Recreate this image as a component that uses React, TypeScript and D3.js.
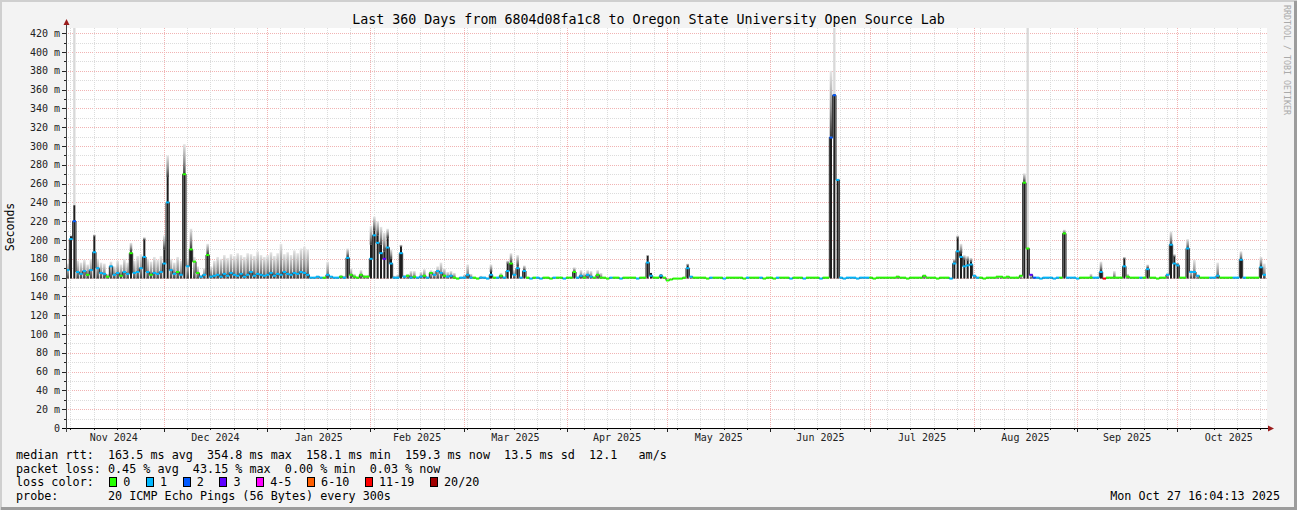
import * as d3 from "d3";
import { useEffect, useRef } from "react";

const WIDTH = 1297;
const HEIGHT = 510;

const TITLE = "Last 360 Days from 6804d08fa1c8 to Oregon State University Open Source Lab";
const START = new Date(Date.UTC(2024, 10, 1, 16, 4, 13));
const END = new Date(Date.UTC(2025, 9, 27, 16, 4, 13));

// median rtt per day (ms), day 0 = Nov 1 2024
const MEDIAN = [
  168, 201, 220, 166, 164, 167, 163, 168, 187, 170, 165, 164, 161, 172, 163, 165, 162, 166, 164, 186, 165, 166, 170, 182, 166, 163, 165, 164, 166, 175,
  240, 168, 164, 166, 163, 270, 172, 190, 177, 165, 161, 163, 184, 161, 162, 163, 161, 164, 162, 165, 163, 162, 164, 161, 163, 166, 162, 164, 163, 162,
  163, 165, 162, 164, 163, 166, 164, 163, 165, 164, 166, 165, 163, 160, 160, 161, 160, 160, 163, 161, 160, 160, 161, 160, 181, 163, 161, 160, 163, 161,
  161, 180, 205, 197, 186, 180, 192, 175, 160, 160, 186, 161, 162, 160, 161, 160, 161, 162, 160, 165, 163, 167, 165, 162, 161, 162, 160, 159, 160, 160,
  163, 160, 160, 159, 160, 160, 159, 163, 160, 160, 162, 160, 167, 175, 163, 170, 160, 167, 160, 159, 160, 160, 159, 160, 160, 159, 160, 160, 160, 159,
  160, 160, 166, 160, 162, 160, 163, 161, 160, 163, 160, 160, 159, 160, 160, 160, 159, 160, 160, 160, 160, 159, 160, 160, 176, 162, 160, 160, 162, 160,
  157, 158, 159, 159, 159, 160, 170, 161, 160, 160, 160, 160, 159, 160, 160, 160, 160, 159, 160, 160, 160, 160, 160, 159, 160, 160, 160, 160, 160, 159,
  160, 160, 159, 160, 160, 160, 160, 159, 160, 160, 160, 159, 160, 160, 160, 160, 159, 160, 160, 309, 354, 264, 160, 159, 160, 160, 160, 159, 160, 160,
  160, 160, 159, 160, 160, 160, 160, 160, 160, 161, 160, 160, 159, 160, 160, 160, 160, 162, 160, 160, 160, 159, 160, 160, 160, 159, 175, 188, 182, 172,
  173, 174, 162, 160, 160, 159, 160, 160, 160, 161, 161, 160, 161, 160, 160, 160, 162, 261, 191, 163, 160, 160, 159, 160, 160, 160, 159, 160, 160, 207,
  160, 160, 160, 159, 160, 160, 160, 160, 160, 160, 166, 159, 160, 160, 160, 160, 160, 172, 161, 160, 160, 160, 160, 160, 169, 160, 160, 159, 160, 160,
  163, 195, 175, 173, 160, 160, 191, 166, 166, 162, 160, 160, 160, 160, 160, 162, 160, 160, 160, 160, 160, 160, 179, 160, 160, 160, 160, 160, 171, 163,
];

// highest ping of the day (top of the smoke)
const SMOKE_TOP = [
  175, 205, 237, 178, 176, 179, 174, 180, 206, 180, 176, 175, 164, 177, 172, 178, 174, 180, 176, 197, 178, 183, 185, 203, 180, 177, 182, 179, 183, 205,
  290, 180, 176, 182, 178, 302, 180, 212, 182, 172, 163, 170, 196, 172, 178, 182, 180, 184, 181, 185, 183, 186, 184, 182, 186, 185, 183, 188, 184, 182,
  184, 187, 183, 186, 196, 185, 187, 184, 189, 186, 191, 193, 190, 160, 160, 161, 160, 160, 177, 161, 160, 160, 163, 162, 191, 170, 164, 161, 168, 163,
  163, 215, 225, 220, 214, 208, 212, 190, 162, 163, 195, 163, 164, 167, 167, 161, 166, 169, 161, 168, 167, 172, 176, 170, 166, 167, 165, 160, 161, 163,
  174, 164, 161, 160, 162, 161, 160, 174, 161, 161, 165, 161, 178, 186, 168, 184, 161, 173, 160, 160, 160, 161, 160, 160, 161, 160, 160, 161, 160, 160,
  160, 161, 171, 161, 168, 165, 168, 167, 161, 168, 165, 160, 160, 160, 161, 160, 160, 160, 160, 161, 160, 160, 160, 161, 184, 165, 161, 160, 164, 160,
  157, 158, 159, 159, 159, 160, 175, 161, 160, 160, 160, 160, 159, 160, 160, 160, 160, 159, 160, 160, 160, 160, 160, 159, 160, 160, 160, 160, 160, 159,
  160, 160, 159, 160, 160, 160, 160, 159, 160, 160, 160, 159, 160, 160, 160, 160, 159, 160, 160, 380, 355, 264, 160, 159, 160, 160, 160, 159, 160, 160,
  160, 160, 159, 160, 160, 160, 160, 160, 160, 162, 160, 160, 159, 160, 160, 160, 160, 163, 160, 160, 160, 159, 160, 160, 160, 159, 180, 205, 196, 184,
  183, 181, 163, 160, 160, 159, 160, 160, 160, 161, 161, 160, 161, 160, 160, 160, 162, 271, 191, 163, 160, 160, 159, 160, 160, 160, 159, 160, 160, 211,
  160, 160, 160, 159, 160, 160, 160, 164, 160, 160, 177, 159, 160, 160, 167, 160, 160, 182, 164, 160, 160, 160, 160, 160, 174, 160, 160, 159, 160, 160,
  165, 209, 185, 176, 160, 160, 201, 168, 179, 163, 160, 160, 160, 160, 160, 176, 160, 160, 160, 160, 160, 160, 188, 160, 160, 160, 160, 160, 182, 175,
];

// [day, top of the dense (dark) smoke]
const DARK_CORE: [number, number][] = [
  [1, 204], [2, 237], [8, 204], [19, 188], [23, 200], [29, 190], [30, 267], [35, 270], [37, 191], [42, 185],
  [84, 182], [91, 195], [92, 210], [93, 205], [94, 195], [95, 188], [96, 202], [97, 180], [100, 193],
  [127, 166], [132, 175], [133, 176], [135, 172], [137, 168], [152, 166], [174, 183], [175, 165], [178, 163], [186, 173],
  [229, 310], [230, 355], [231, 264], [266, 176], [267, 202], [268, 186], [269, 179], [270, 178], [271, 177],
  [287, 262], [288, 191], [299, 207], [310, 167], [317, 180], [324, 170], [331, 195], [332, 182], [333, 174],
  [336, 191], [352, 179], [358, 172],
];

// [day, single outlier ping]
const FAINT_TOP: [number, number][] = [[2, 426], [230, 426], [288, 426]];

// loss class per day (index into LOSS_COLORS)
const LOSS = [
  "112111011111011101101111101111",
  "111010100011011111111111111111",
  "111111111111111110111101100000",
  "011113111111010110101110110011",
  "110011110101101111010110001001",
  "000110110000010010000100110010",
  "000000110000010001000000100010",
  "000100010001000010022111111111",
  "100000000000000000000000011111",
  "111100000000000000032111111100",
  "111100001116000001000010100000",
  "111100111100011100001111000011",
].join("");

const LOSS_COLORS = ["#26ff00", "#00b8ff", "#0059ff", "#5e00ff", "#ff00ff", "#ff5e00", "#ff0000", "#a10000"];
const LOSS_LABELS = ["0", "1", "2", "3", "4-5", "6-10", "11-19", "20/20"];

const LEGEND_LINES = [
  "median rtt:  163.5 ms avg  354.8 ms max  158.1 ms min  159.3 ms now  13.5 ms sd  12.1   am/s",
  "packet loss: 0.45 % avg  43.15 % max  0.00 % min  0.03 % now",
  "loss color:",
  "probe:       20 ICMP Echo Pings (56 Bytes) every 300s",
];
const STAMP = "Mon Oct 27 16:04:13 2025";
const Y_TICKS = d3.range(0, 421, 20);

const MONO = "'DejaVu Sans Mono', monospace";

function App() {
  const svgRef = useRef<SVGSVGElement | null>(null);

  useEffect(() => {
    if (!svgRef.current) return;
    const svg = d3.select(svgRef.current);
    svg.selectAll("*").remove();

    const margin = { top: 28, left: 66, bottom: 428, right: 1266 };
    const x = d3.scaleUtc().domain([START, END]).range([margin.left, margin.right]);
    const y = d3.scaleLinear().domain([0, 425.6]).range([margin.bottom, margin.top]).clamp(true);
    const dayX = (i: number) => x(d3.utcDay.offset(START, i));
    const dayW = dayX(1) - dayX(0);

    // background + 3d frame
    svg.append("rect").attr("width", WIDTH).attr("height", HEIGHT).attr("fill", "#f3f3f3");
    const frame = svg.append("g").attr("fill", "none").attr("stroke-width", 2);
    frame.append("path").attr("d", `M1,${HEIGHT} V1 H${WIDTH}`).attr("stroke", "#cfcfcf");
    frame.append("path").attr("d", `M1,${HEIGHT - 1.5} H${WIDTH - 1.5} V1`).attr("stroke", "#9c9c9c").attr("stroke-width", 3);

    svg.append("rect")
      .attr("x", margin.left).attr("y", margin.top)
      .attr("width", margin.right - margin.left + 1).attr("height", margin.bottom - margin.top)
      .attr("fill", "#ffffff");

    // grid
    const grid = svg.append("g").attr("stroke-dasharray", "1,1").attr("stroke-width", 1)
      .attr("shape-rendering", "crispEdges");
    const MINOR = "#dcdcdc";
    const MAJOR = "#f1b3b3";
    d3.range(10, 426, 10).forEach(v => {
      const yy = Math.round(y(v)) + 0.5;
      grid.append("line")
        .attr("x1", margin.left).attr("x2", margin.right + 1)
        .attr("y1", yy).attr("y2", yy)
        .attr("stroke", v % 20 === 0 ? MAJOR : MINOR);
    });
    const weeks = d3.utcSunday.range(START, END);
    const months = d3.utcMonth.range(START, END);
    weeks.forEach(d => {
      const xx = Math.round(x(d)) + 0.5;
      grid.append("line").attr("x1", xx).attr("x2", xx).attr("y1", margin.top).attr("y2", margin.bottom)
        .attr("stroke", MINOR);
    });
    months.forEach(d => {
      const xx = Math.round(x(d)) + 0.5;
      grid.append("line").attr("x1", xx).attr("x2", xx).attr("y1", margin.top).attr("y2", margin.bottom)
        .attr("stroke", MAJOR);
    });

    // smoke
    const defs = svg.append("defs");
    const grad = defs.append("linearGradient").attr("id", "smoke").attr("x1", 0).attr("y1", 1).attr("x2", 0).attr("y2", 0);
    grad.append("stop").attr("offset", 0).attr("stop-color", "#3c3c3c");
    grad.append("stop").attr("offset", 0.4).attr("stop-color", "#8e8e8e");
    grad.append("stop").attr("offset", 1).attr("stop-color", "#e6e6e6");

    const darkMap = new Map(DARK_CORE);
    const plot = svg.append("g");

    FAINT_TOP.forEach(([i, v]) => {
      const lo = Math.max(SMOKE_TOP[i], darkMap.get(i) ?? 0);
      plot.append("rect")
        .attr("x", dayX(i) + 0.5).attr("width", dayW - 1)
        .attr("y", y(v)).attr("height", y(lo) - y(v))
        .attr("fill", "#d9d9d9");
    });

    SMOKE_TOP.forEach((top, i) => {
      const lo = darkMap.get(i) ?? 159;
      if (top - lo < 0.5) return;
      plot.append("rect")
        .attr("x", dayX(i) + 0.4).attr("width", dayW - 0.8)
        .attr("y", y(top)).attr("height", y(lo) - y(top))
        .attr("fill", "url(#smoke)");
    });

    DARK_CORE.forEach(([i, v]) => {
      plot.append("rect")
        .attr("x", dayX(i) + dayW / 2 - 1).attr("width", 2)
        .attr("y", y(v)).attr("height", y(159) - y(v))
        .attr("fill", "#1e1e1e");
    });

    // median: thin black step line, then the loss coloured marks
    const pts: [number, number][] = MEDIAN.map((m, i) => [dayX(i) + dayW / 2, y(m)]);
    plot.append("path")
      .attr("d", d3.line().curve(d3.curveStep)(pts) ?? "")
      .attr("fill", "none")
      .attr("stroke", "#1e1e1e")
      .attr("stroke-width", 1);

    MEDIAN.forEach((m, i) => {
      const yy = y(m);
      plot.append("line")
        .attr("x1", dayX(i)).attr("x2", dayX(i) + dayW)
        .attr("y1", yy).attr("y2", yy)
        .attr("stroke", LOSS_COLORS[+LOSS[i]])
        .attr("stroke-width", 2);
    });

    // axes
    const axis = svg.append("g").attr("stroke", "#222").attr("shape-rendering", "crispEdges");
    d3.range(0, 426, 10).forEach(v => {
      const yy = Math.round(y(v)) + 0.5;
      axis.append("line").attr("x1", v % 20 === 0 ? 62 : 64).attr("x2", margin.left).attr("y1", yy).attr("y2", yy);
    });
    weeks.forEach(d => {
      const xx = Math.round(x(d)) + 0.5;
      axis.append("line").attr("x1", xx).attr("x2", xx).attr("y1", margin.bottom).attr("y2", margin.bottom + 2);
    });
    months.forEach(d => {
      const xx = Math.round(x(d)) + 0.5;
      axis.append("line").attr("x1", xx).attr("x2", xx).attr("y1", margin.bottom).attr("y2", margin.bottom + 4);
    });
    axis.append("line").attr("x1", 62).attr("x2", margin.right + 4).attr("y1", margin.bottom + 0.5).attr("y2", margin.bottom + 0.5).attr("stroke", "#000");
    axis.append("line").attr("x1", margin.left + 0.5).attr("x2", margin.left + 0.5).attr("y1", margin.bottom + 4).attr("y2", 22).attr("stroke", "#444");
    svg.append("path").attr("d", `M${margin.left - 2.5},25 L${margin.left + 0.5},19 L${margin.left + 3.5},25 Z`).attr("fill", "#9a1c1c");
    svg.append("path").attr("d", `M${margin.right + 2},${margin.bottom - 2.5} L${margin.right + 8},${margin.bottom + 0.5} L${margin.right + 2},${margin.bottom + 3.5} Z`).attr("fill", "#9a1c1c");

    // tick labels
    const labels = svg.append("g").attr("font-family", MONO).attr("font-size", 10).attr("fill", "#222");
    Y_TICKS.forEach(v => {
      labels.append("text")
        .attr("x", 60).attr("y", y(v) + 3.5)
        .attr("text-anchor", "end")
        .text(v === 0 ? "0" : `${v} m`);
    });
    const fmt = d3.utcFormat("%b %Y");
    d3.utcMonth.range(d3.utcMonth.floor(START), END).forEach(d => {
      const mid = (x(d) + x(d3.utcMonth.offset(d, 1))) / 2;
      labels.append("text").attr("x", mid).attr("y", 441).attr("text-anchor", "middle").text(fmt(d));
    });

    // title and side texts
    svg.append("text")
      .attr("x", 648.5).attr("y", 23.5)
      .attr("text-anchor", "middle")
      .attr("font-family", MONO).attr("font-size", 13.3).attr("fill", "#000")
      .text(TITLE);

    svg.append("text")
      .attr("transform", "translate(14,227) rotate(-90)")
      .attr("text-anchor", "middle")
      .attr("font-family", MONO).attr("font-size", 11.5).attr("fill", "#000")
      .text("Seconds");

    svg.append("text")
      .attr("transform", "translate(1284,5) rotate(90)")
      .attr("font-family", MONO).attr("font-size", 8.3).attr("fill", "#aaaaaa")
      .text("RRDTOOL / TOBI OETIKER");

    // legend
    const legend = svg.append("g").attr("font-family", MONO).attr("font-size", 11.75).attr("fill", "#000")
      .style("white-space", "pre");
    const rowY = [459, 472.5, 486, 499.5];
    LEGEND_LINES.forEach((line, i) => {
      legend.append("text").attr("x", 16).attr("y", rowY[i]).attr("xml:space", "preserve").text(line);
    });
    const charW = 11.75 * 0.602;
    let sx = 109.3;
    LOSS_LABELS.forEach((lab, i) => {
      legend.append("rect")
        .attr("x", Math.round(sx) + 0.5).attr("y", 477.5)
        .attr("width", 7).attr("height", 9)
        .attr("fill", LOSS_COLORS[i]).attr("stroke", "#000");
      legend.append("text").attr("x", sx + 14).attr("y", rowY[2]).text(lab);
      sx += 14 + lab.length * charW + 15.65;
    });
    legend.append("text").attr("x", 1280).attr("y", rowY[3]).attr("text-anchor", "end").text(STAMP);
  }, []);

  return (
    <svg
      ref={svgRef}
      width={WIDTH}
      height={HEIGHT}
      style={{ position: "absolute", left: 0, top: 0 }}
    />
  );
}

export default App;
